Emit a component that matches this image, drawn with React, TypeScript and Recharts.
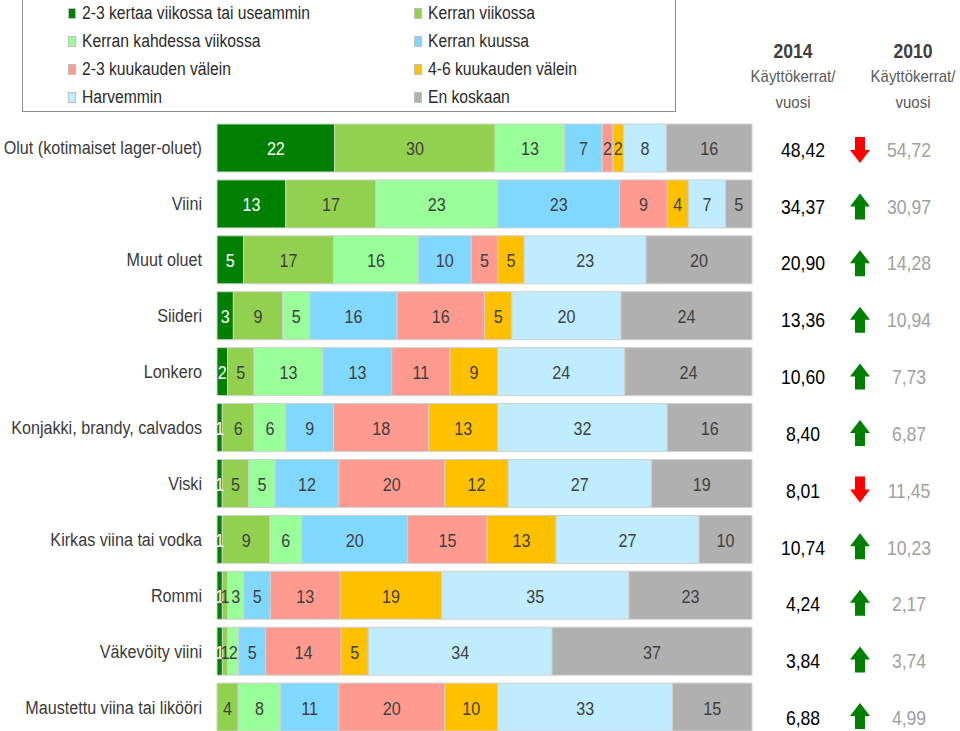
import React from 'react';
import { BarChart, Bar, XAxis, YAxis, LabelList } from 'recharts';

const categories = [
  'Olut (kotimaiset lager-oluet)',
  'Viini',
  'Muut oluet',
  'Siideri',
  'Lonkero',
  'Konjakki, brandy, calvados',
  'Viski',
  'Kirkas viina tai vodka',
  'Rommi',
  'Väkevöity viini',
  'Maustettu viina tai likööri',
];

const seriesNames = [
  '2-3 kertaa viikossa tai useammin',
  'Kerran viikossa',
  'Kerran kahdessa viikossa',
  'Kerran kuussa',
  '2-3 kuukauden välein',
  '4-6 kuukauden välein',
  'Harvemmin',
  'En koskaan',
];

const kertaaViikossa = [22, 13, 5, 3, 2, 1, 1, 1, 1, 1, 0];
const kerranViikossa = [30, 17, 17, 9, 5, 6, 5, 9, 1, 1, 4];
const kahdessaViikossa = [13, 23, 16, 5, 13, 6, 5, 6, 3, 2, 8];
const kerranKuussa = [7, 23, 10, 16, 13, 9, 12, 20, 5, 5, 11];
const kuukausi23 = [2, 9, 5, 16, 11, 18, 20, 15, 13, 14, 20];
const kuukausi46 = [2, 4, 5, 5, 9, 13, 12, 13, 19, 5, 10];
const harvemmin = [8, 7, 23, 20, 24, 32, 27, 27, 35, 34, 33];
const enKoskaan = [16, 5, 20, 24, 24, 16, 19, 10, 23, 37, 15];

const usage2014 = [48.42, 34.37, 20.9, 13.36, 10.6, 8.4, 8.01, 10.74, 4.24, 3.84, 6.88];
const usage2010 = [54.72, 30.97, 14.28, 10.94, 7.73, 6.87, 11.45, 10.23, 2.17, 3.74, 4.99];

const headerYears = ['2014', '2010'];
const headerSub = ['Käyttökerrat/', 'vuosi'];

const seriesValues = [
  kertaaViikossa,
  kerranViikossa,
  kahdessaViikossa,
  kerranKuussa,
  kuukausi23,
  kuukausi46,
  harvemmin,
  enKoskaan,
];

const COLORS = ['#008000', '#92D050', '#99FF99', '#80D8FF', '#FF9A90', '#FFC000', '#C0ECFF', '#B0B0B0'];
const LABEL_COLORS = ['#FFFFFF', '#404040', '#404040', '#404040', '#404040', '#404040', '#404040', '#404040'];

const FONT = "'Liberation Sans', Arial, sans-serif";

const data = categories.map((name, i) => {
  const row: Record<string, any> = { name };
  seriesValues.forEach((arr, s) => {
    row['s' + s] = arr[i];
  });
  return row;
});

const fmt = (v: number) => v.toFixed(2).replace('.', ',');

const SText = ({
  x,
  y,
  children,
  anchor = 'middle',
  size = 19,
  sx = 0.85,
  fill = '#404040',
  weight = 'normal',
}: any) => (
  <text
    transform={`translate(${x},${y}) scale(${sx},1)`}
    x={0}
    y={0}
    textAnchor={anchor}
    dominantBaseline="central"
    fontFamily={FONT}
    fontSize={size}
    fontWeight={weight}
    fill={fill}
  >
    {children}
  </text>
);

const Arrow = ({ cx, cy, up }: { cx: number; cy: number; up: boolean }) => {
  const w = 20;
  const h = 26;
  const head = 13;
  const shaft = 10;
  const top = cy - h / 2;
  const raw = up
    ? [
        [cx, top],
        [cx + w / 2, top + head],
        [cx + shaft / 2, top + head],
        [cx + shaft / 2, top + h],
        [cx - shaft / 2, top + h],
        [cx - shaft / 2, top + head],
        [cx - w / 2, top + head],
      ]
    : [
        [cx, top + h],
        [cx + w / 2, top + h - head],
        [cx + shaft / 2, top + h - head],
        [cx + shaft / 2, top],
        [cx - shaft / 2, top],
        [cx - shaft / 2, top + h - head],
        [cx - w / 2, top + h - head],
      ];
  return <polygon points={raw.map((p) => p.join(',')).join(' ')} fill={up ? '#008000' : '#FF0000'} />;
};

// The usage table on the right has a slightly looser row pitch than the bars.
const CategoryTick = (props: any) => {
  const { y, payload, index } = props;
  const v14 = usage2014[index];
  const v10 = usage2010[index];
  const up = v14 >= v10;
  const ty = y + 2 + index * 0.9;
  const ay = y + 2 + index * 0.7;
  return (
    <g>
      <SText x={202} y={y} anchor="end" size={19} sx={0.85} fill="#3a3a3a">
        {payload.value}
      </SText>
      <SText x={803} y={ty} size={20} sx={0.88} fill="#000000">
        {fmt(v14)}
      </SText>
      <Arrow cx={860} cy={ay} up={up} />
      <SText x={909} y={ty} size={20} sx={0.88} fill="#A0A0A0">
        {fmt(v10)}
      </SText>
    </g>
  );
};

const makeBarLabel = (color: string) => (props: any) => {
  const { x, y, width, height, value } = props;
  if (x == null || y == null) return null;
  return (
    <SText x={Number(x) + Number(width) / 2} y={Number(y) + Number(height) / 2 + 1} size={19} sx={0.85} fill={color}>
      {value}
    </SText>
  );
};

const LegendBox = () => (
  <div
    style={{
      position: 'absolute',
      left: 22,
      top: -12,
      boxSizing: 'border-box',
      width: 654,
      height: 124,
      border: '1.5px solid #8c8c8c',
      background: '#fff',
      fontFamily: FONT,
      fontSize: 18,
      color: '#2b2b2b',
    }}
  >
    {seriesNames.map((n, i) => {
      const col = i % 2;
      const row = Math.floor(i / 2);
      return (
        <div
          key={n}
          style={{
            position: 'absolute',
            left: col === 0 ? 45 : 391,
            top: 14 + row * 28,
            display: 'flex',
            alignItems: 'center',
            height: 20,
            whiteSpace: 'nowrap',
          }}
        >
          <span
            style={{
              display: 'inline-block',
              width: 8,
              height: 11,
              background: COLORS[i],
              border: '1px solid #bfbfbf',
              boxSizing: 'border-box',
              marginRight: 6,
            }}
          />
          <span style={{ display: 'inline-block', transform: 'scaleX(0.87)', transformOrigin: 'left center' }}>{n}</span>
        </div>
      );
    })}
  </div>
);

const HeaderCol = ({ year, cx }: { year: string; cx: number }) => (
  <div style={{ position: 'absolute', left: cx - 70, top: 38, width: 140, textAlign: 'center', fontFamily: FONT }}>
    <div style={{ fontSize: 20, fontWeight: 'bold', color: '#404040', lineHeight: '26px', transform: 'scaleX(0.88)' }}>
      {year}
    </div>
    {headerSub.map((t) => (
      <div key={t} style={{ fontSize: 17, color: '#595959', lineHeight: '26px', transform: 'scaleX(0.88)' }}>
        {t}
      </div>
    ))}
  </div>
);

export default function App() {
  return (
    <div
      style={{ position: 'absolute', left: 0, top: 0, width: 960, height: 731, overflow: 'hidden', background: '#fff' }}
    >
      <BarChart
        width={960}
        height={760}
        data={data}
        layout="vertical"
        stackOffset="expand"
        margin={{ top: 120, right: 208, bottom: 25, left: 0 }}
        barSize={48}
      >
        <XAxis type="number" hide domain={[0, 1]} />
        <YAxis
          type="category"
          dataKey="name"
          width={217}
          axisLine={false}
          tickLine={false}
          interval={0}
          tick={<CategoryTick />}
        />
        {seriesNames.map((n, s) => (
          <Bar
            key={n}
            dataKey={'s' + s}
            name={n}
            stackId="a"
            fill={COLORS[s]}
            stroke="#d0d0d0"
            strokeWidth={1}
            isAnimationActive={false}
          >
            <LabelList dataKey={'s' + s} content={makeBarLabel(LABEL_COLORS[s])} />
          </Bar>
        ))}
      </BarChart>
      <LegendBox />
      <HeaderCol year={headerYears[0]} cx={793} />
      <HeaderCol year={headerYears[1]} cx={913} />
    </div>
  );
}
